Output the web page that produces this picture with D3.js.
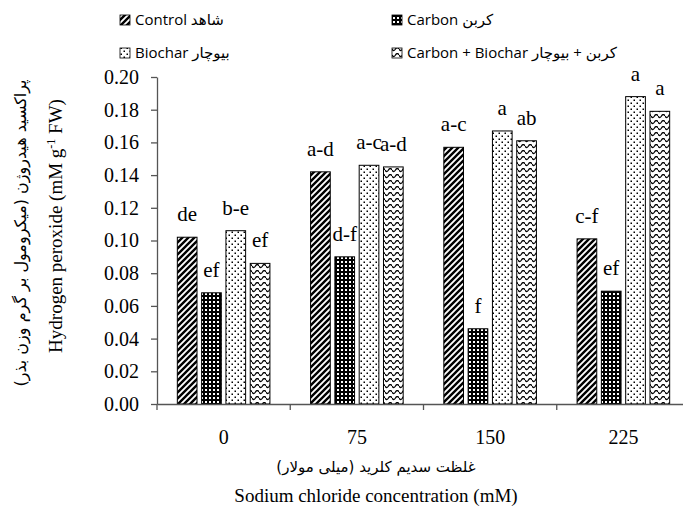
<!DOCTYPE html>
<html lang="fa">
<head>
<meta charset="UTF-8">
<title>Hydrogen peroxide</title>
<script src="https://d3js.org/d3.v7.min.js"></script>
<style>
    body { margin: 0; background: #fff; }
    svg { display: block; }
</style>
</head>
<body>
<div id="chart"></div>
<script>
    // salt levels (mM)
    const categories = ["0", "75", "150", "225"];
    const seriesNames = ["Control", "Carbon", "Biochar", "Carbon + Biochar"];
    const legendLabels = ["Control شاهد", "Carbon کربن", "Biochar بیوچار", "Carbon + Biochar کربن + بیوچار"];

    const control = [0.102, 0.142, 0.157, 0.101];
    const carbon = [0.068, 0.090, 0.046, 0.069];
    const biochar = [0.106, 0.146, 0.167, 0.188];
    const carbonBiochar = [0.086, 0.145, 0.161, 0.179];

    const controlLetters = ["de", "a-d", "a-c", "c-f"];
    const carbonLetters = ["ef", "d-f", "f", "ef"];
    const biocharLetters = ["b-e", "a-c", "a", "a"];
    const carbonBiocharLetters = ["ef", "a-d", "ab", "a"];

    const yTicks = [0, 0.02, 0.04, 0.06, 0.08, 0.10, 0.12, 0.14, 0.16, 0.18, 0.20];

    const values = [control, carbon, biochar, carbonBiochar];
    const letters = [controlLetters, carbonLetters, biocharLetters, carbonBiocharLetters];
    const patternIds = ["p-control", "p-carbon", "p-biochar", "p-cb"];

    const width = 683, height = 506;
    const plotLeft = 157, plotRight = 690, plotTop = 77, plotBottom = 404;
    const axisColor = "#555";
    const serif = '"Liberation Serif", "Times New Roman", "DejaVu Sans", serif';
    const faFont = '"DejaVu Sans", sans-serif';
    const legendFont = '"Open Sans", "DejaVu Sans", sans-serif';

    const svg = d3.select("#chart").append("svg")
        .attr("width", width)
        .attr("height", height);

    // fill patterns
    const defs = svg.append("defs");

    const p1 = defs.append("pattern").attr("id", "p-control")
        .attr("patternUnits", "userSpaceOnUse").attr("width", 6).attr("height", 6);
    p1.append("rect").attr("width", 6).attr("height", 6).attr("fill", "#fff");
    p1.append("path").attr("d", "M-1,1 L1,-1 M0,6 L6,0 M5,7 L7,5")
        .attr("stroke", "#000").attr("stroke-width", 2.4);

    const p2 = defs.append("pattern").attr("id", "p-carbon")
        .attr("patternUnits", "userSpaceOnUse").attr("width", 4).attr("height", 4);
    p2.append("rect").attr("width", 4).attr("height", 4).attr("fill", "#000");
    p2.append("rect").attr("x", 1).attr("y", 1).attr("width", 2).attr("height", 2).attr("fill", "#fff");

    const p3 = defs.append("pattern").attr("id", "p-biochar")
        .attr("patternUnits", "userSpaceOnUse").attr("width", 6).attr("height", 6);
    p3.append("rect").attr("width", 6).attr("height", 6).attr("fill", "#fff");
    p3.append("rect").attr("x", 0.5).attr("y", 0.5).attr("width", 1.5).attr("height", 1.5).attr("fill", "#000");
    p3.append("rect").attr("x", 3.5).attr("y", 3.5).attr("width", 1.5).attr("height", 1.5).attr("fill", "#000");

    const p4 = defs.append("pattern").attr("id", "p-cb")
        .attr("patternUnits", "userSpaceOnUse").attr("width", 7).attr("height", 6);
    p4.append("rect").attr("width", 7).attr("height", 6).attr("fill", "#fff");
    p4.append("path").attr("d", "M0,2 Q1.75,5 3.5,2 T7,2")
        .attr("fill", "none").attr("stroke", "#000").attr("stroke-width", 1.3);

    // scales
    const x = d3.scaleBand().domain(categories).range([plotLeft, plotRight]);
    const xInner = d3.scaleBand().domain(seriesNames).range([-46.3, 46.3]).paddingInner(0.19);
    const y = d3.scaleLinear().domain([0, 0.20]).range([plotBottom, plotTop]);

    // bars + letters
    seriesNames.forEach((name, si) => {
        const g = svg.append("g");
        g.selectAll("rect")
            .data(values[si])
            .enter()
            .append("rect")
            .attr("x", (d, i) => x(categories[i]) + x.bandwidth() / 2 + xInner(name))
            .attr("y", d => y(d))
            .attr("width", xInner.bandwidth())
            .attr("height", d => plotBottom - y(d))
            .attr("fill", `url(#${patternIds[si]})`)
            .attr("stroke", "#000")
            .attr("stroke-width", 1);

        g.selectAll("text")
            .data(values[si])
            .enter()
            .append("text")
            .style("font-family", serif)
            .style("font-size", "21px")
            .attr("x", (d, i) => x(categories[i]) + x.bandwidth() / 2 + xInner(name) + xInner.bandwidth() / 2)
            .attr("y", d => y(d) - 16)
            .attr("text-anchor", "middle")
            .attr("fill", "#000")
            .text((d, i) => letters[si][i]);
    });

    // y axis
    const yAxis = svg.append("g")
        .attr("transform", `translate(${plotLeft},0)`)
        .call(d3.axisLeft(y).tickValues(yTicks).tickFormat(d3.format(".2f"))
            .tickSize(6).tickSizeOuter(0).tickPadding(12));
    yAxis.select(".domain").attr("stroke", axisColor).attr("stroke-width", 1.3);
    yAxis.selectAll(".tick line").attr("stroke", axisColor).attr("stroke-width", 1.3);
    yAxis.selectAll(".tick text").style("font-family", serif).style("font-size", "20px").attr("fill", "#000");

    // x axis
    const xAxis = svg.append("g")
        .attr("transform", `translate(0,${plotBottom})`)
        .call(d3.axisBottom(x).tickSize(0).tickSizeOuter(0).tickPadding(26));
    xAxis.select(".domain").attr("stroke", axisColor).attr("stroke-width", 1.3);
    xAxis.selectAll(".tick text").style("font-family", serif).style("font-size", "20px").attr("fill", "#000");

    const bounds = categories.map(c => x(c)).concat([plotRight]);
    svg.append("g").selectAll("line")
        .data(bounds)
        .enter()
        .append("line")
        .attr("x1", d => d).attr("x2", d => d)
        .attr("y1", plotBottom).attr("y2", plotBottom + 6)
        .attr("stroke", axisColor).attr("stroke-width", 1.3);

    // axis titles
    svg.append("text")
        .style("font-family", serif)
        .style("font-size", "19px")
        .attr("transform", "translate(62,226) rotate(-90)")
        .attr("text-anchor", "middle")
        .html("Hydrogen peroxide (mM g<tspan baseline-shift='super' font-size='12px'>-1</tspan> FW)");

    svg.append("text")
        .style("font-family", faFont)
        .style("font-size", "16px")
        .attr("transform", "translate(26,233) rotate(-90)")
        .attr("text-anchor", "middle")
        .text("پراکسید هیدروژن (میکرومول بر گرم وزن بذر)");

    svg.append("text")
        .style("font-family", faFont)
        .style("font-size", "15px")
        .attr("x", 376).attr("y", 472)
        .attr("text-anchor", "middle")
        .attr("direction", "rtl")
        .text("غلظت سدیم کلرید (میلی مولار)");

    svg.append("text")
        .style("font-family", serif)
        .style("font-size", "19px")
        .attr("x", 376).attr("y", 502)
        .attr("text-anchor", "middle")
        .text("Sodium chloride concentration (mM)");

    // legend
    const legendX = [120, 392, 120, 392];
    const legendY = [20, 20, 53, 53];
    const items = svg.append("g").selectAll("g")
        .data(legendLabels)
        .enter()
        .append("g")
        .attr("transform", (d, i) => `translate(${legendX[i]},${legendY[i]})`);
    items.append("rect")
        .attr("x", 0).attr("y", -5)
        .attr("width", 10).attr("height", 10)
        .attr("fill", (d, i) => `url(#${patternIds[i]})`)
        .attr("stroke", "#000").attr("stroke-width", 0.8);
    items.append("text")
        .style("font-family", legendFont)
        .style("font-size", "15px")
        .style("font-weight", "400")
        .attr("x", 15).attr("dy", "0.35em")
        .attr("fill", "#000")
        .text(d => d);
</script>
</body>
</html>
